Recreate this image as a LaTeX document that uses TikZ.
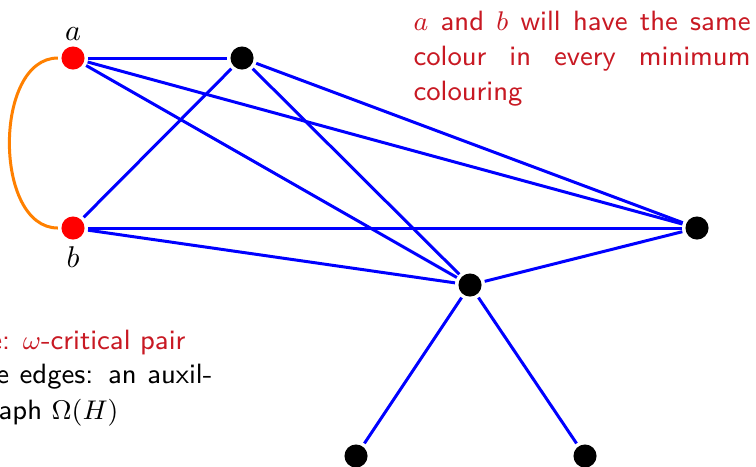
\documentclass[tikz,border=0pt]{standalone}
\usepackage{xcolor}
\definecolor{alertred}{RGB}{200,25,35}
\definecolor{edgeblue}{RGB}{0,0,255}
\definecolor{pairorange}{RGB}{255,128,0}
\begin{document}
\begin{tikzpicture}[x=0.3333pt, y=-0.3333pt,
  vtx/.style={circle, fill=black, inner sep=0pt, minimum size=7.7pt},
  redvtx/.style={vtx, fill=red},
  gedge/.style={draw=edgeblue, line width=1pt, shorten >=1pt, shorten <=1pt},
  pairedge/.style={draw=pairorange, line width=1pt, shorten >=1pt, shorten <=1pt},
  lbl/.style={inner sep=0pt, font=\fontsize{10.3}{12}\selectfont},
  txt/.style={inner sep=0pt, font=\fontsize{9.3}{11.67}\selectfont\sffamily}]
\useasboundingbox (0,0) rectangle (756,466);
\clip (0,0) rectangle (756,466);

% vertices
\node[redvtx] (a) at (73,58) {};
\node[redvtx] (b) at (73,228) {};
\node[vtx] (c) at (242,58) {};
\node[vtx] (d) at (697,228) {};
\node[vtx] (e) at (470,285) {};
\node[vtx] (f) at (356,456) {};
\node[vtx] (g) at (585,456) {};

\node[lbl, anchor=base] (la) at (73,40) {$a$};
\node[lbl, anchor=base] (lb) at (73,267) {$b$};

% auxiliary graph
\draw[gedge] (a) -- (c);
\draw[gedge] (a) -- (d);
\draw[gedge] (a) -- (e);
\draw[gedge] (b) -- (c);
\draw[gedge] (b) -- (d);
\draw[gedge] (b) -- (e);
\draw[gedge] (c) -- (d);
\draw[gedge] (c) -- (e);
\draw[gedge] (d) -- (e);
\draw[gedge] (e) -- (f);
\draw[gedge] (e) -- (g);

% critical pair
\draw[pairedge] (a) to[out=180, in=180, looseness=1.02] (b);

% remarks
\node[txt, text=alertred, anchor=base west, text width=112.3pt, align=justify]
  (note) at (413,30) {$a$ and $b$ will have the same colour in every minimum colouring};

\node[txt, text=alertred, anchor=base east] (l1) at (186,349) {e: $\omega$-critical pair};
\node[txt, anchor=base east] (l2) at (213,383) {\makebox[72pt][s]{e edges: an auxil-}};
\node[txt, anchor=base east] (l3) at (119,419) {aph $\Omega(H)$};
\end{tikzpicture}
\end{document}
